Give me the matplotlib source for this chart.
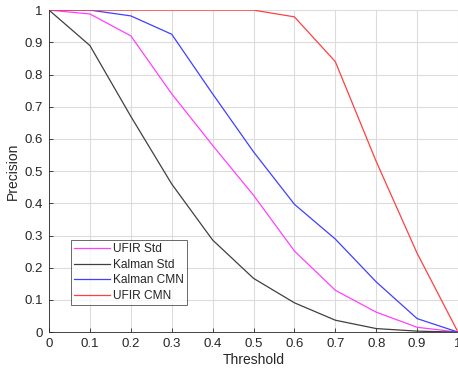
import matplotlib

matplotlib.use("Agg")
import matplotlib.pyplot as plt

plt.rcParams["font.family"] = ["Liberation Sans", "DejaVu Sans"]

threshold = [0.0, 0.1, 0.2, 0.3, 0.4, 0.5, 0.6, 0.7, 0.8, 0.9, 1.0]
ufir_std = [1.0, 0.988, 0.92, 0.74, 0.58, 0.425, 0.252, 0.13, 0.062, 0.015, 0.0]
kalman_std = [1.0, 0.89, 0.67, 0.46, 0.286, 0.167, 0.091, 0.037, 0.011, 0.003, 0.0]
kalman_cmn = [1.0, 1.0, 0.982, 0.925, 0.74, 0.56, 0.397, 0.289, 0.156, 0.042, 0.0]
ufir_cmn = [1.0, 1.0, 1.0, 1.0, 1.0, 1.0, 0.979, 0.84, 0.53, 0.245, 0.0]

labels = ["UFIR Std", "Kalman Std", "Kalman CMN", "UFIR CMN"]
colors = ["#ff40ff", "#404040", "#4040ff", "#ff4040"]
ticks = [0, 0.1, 0.2, 0.3, 0.4, 0.5, 0.6, 0.7, 0.8, 0.9, 1]
tick_labels = ["0", "0.1", "0.2", "0.3", "0.4", "0.5", "0.6", "0.7", "0.8", "0.9", "1"]

fig = plt.figure(figsize=(4.58, 3.74), dpi=100)
ax = fig.add_axes([0.107, 0.112, 0.893, 0.861])

for ys, lab, col in zip([ufir_std, kalman_std, kalman_cmn, ufir_cmn], labels, colors):
    ax.plot(threshold, ys, color=col, linewidth=0.9, label=lab)

ax.set_xlim(0, 1)
ax.set_ylim(0, 1)
ax.set_xticks(ticks)
ax.set_xticklabels(tick_labels)
ax.set_yticks(ticks)
ax.set_yticklabels(tick_labels)
ax.grid(True, color="#dcdcdc", linewidth=0.8)
ax.set_axisbelow(True)
ax.tick_params(direction="in", length=3, labelsize=9.5, colors="#262626", width=0.6, pad=4.5)
for side in ["top", "right"]:
    ax.spines[side].set_visible(False)
for side in ["left", "bottom"]:
    ax.spines[side].set_color("#262626")
    ax.spines[side].set_linewidth(0.6)
ax.set_xlabel("Threshold", fontsize=10, color="#262626", labelpad=2)
ax.set_ylabel("Precision", fontsize=10, color="#262626", labelpad=3)

leg = ax.legend(loc="lower left", bbox_to_anchor=(0.054, 0.084), fontsize=8.6,
                frameon=True, fancybox=False, handlelength=3.0, handletextpad=0.3,
                labelspacing=0.3, borderpad=0.25, borderaxespad=0)
leg.get_frame().set_edgecolor("#262626")
leg.get_frame().set_linewidth(0.6)
for t in leg.get_texts():
    t.set_color("#262626")

fig.savefig("out.png", dpi=100)
